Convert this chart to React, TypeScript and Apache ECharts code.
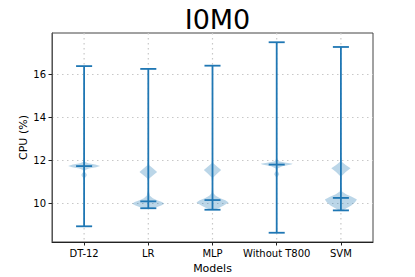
import React, { useEffect, useRef } from "react";
import * as echarts from "echarts";

const categories = ["DT-12", "LR", "MLP", "Without T800", "SVM"];
const minValues = [8.93, 9.77, 9.7, 8.63, 9.67];
const maxValues = [16.38, 16.25, 16.4, 17.49, 17.27];
const meanValues = [11.73, 10.09, 10.15, 11.8, 10.25];
const yTicks = [10, 12, 14, 16];

// density profiles: [value, relative half-width (0..1)]
const densityDT12 = [
  [8.93, 0], [10.5, 0.005], [11.1, 0.01], [11.2, 0.07], [11.27, 0.15], [11.33, 0.17],
  [11.4, 0.12], [11.47, 0.04], [11.55, 0.08], [11.62, 0.3], [11.68, 0.75], [11.74, 1.0],
  [11.8, 0.7], [11.86, 0.25], [11.93, 0.05], [12.1, 0.01], [16.38, 0],
];
const densityLR = [
  [9.77, 0.3], [9.83, 0.55], [9.9, 0.8], [9.98, 1.0], [10.06, 0.85], [10.14, 0.55],
  [10.24, 0.28], [10.35, 0.1], [10.6, 0.02], [11.0, 0.01], [11.15, 0.06], [11.3, 0.3],
  [11.46, 0.55], [11.62, 0.3], [11.77, 0.06], [12.0, 0.01], [16.25, 0],
];
const densityMLP = [
  [9.7, 0.12], [9.78, 0.4], [9.9, 0.7], [10.04, 1.0], [10.14, 0.8], [10.24, 0.48],
  [10.35, 0.2], [10.47, 0.06], [10.8, 0.01], [11.2, 0.05], [11.38, 0.3], [11.55, 0.54],
  [11.7, 0.3], [11.86, 0.05], [12.1, 0.01], [16.4, 0],
];
const densityT800 = [
  [8.63, 0], [10.8, 0.005], [11.2, 0.02], [11.28, 0.1], [11.35, 0.16], [11.42, 0.12],
  [11.5, 0.04], [11.62, 0.06], [11.72, 0.35], [11.8, 0.9], [11.84, 1.0], [11.9, 0.5],
  [11.96, 0.12], [12.1, 0.01], [17.49, 0],
];
const densitySVM = [
  [9.67, 0.12], [9.77, 0.35], [9.9, 0.65], [10.05, 0.88], [10.18, 1.0], [10.3, 0.68],
  [10.42, 0.32], [10.55, 0.07], [10.9, 0.01], [11.27, 0.05], [11.45, 0.3], [11.63, 0.6],
  [11.78, 0.3], [11.93, 0.05], [12.2, 0.01], [17.27, 0],
];
const densities = [densityDT12, densityLR, densityMLP, densityT800, densitySVM];

const BLUE = "#1f77b4";
const FILL = "rgba(31,119,180,0.3)";
const FONT = "DejaVu Sans";
const GRID_COLOR = "#c8c8c8";

export default function App() {
  const ref = useRef<HTMLDivElement>(null);
  useEffect(() => {
    if (!ref.current) return;
    const chart = echarts.init(ref.current, undefined, { renderer: "svg" });
    const renderItem = (params: any, api: any) => {
      const i = api.value(0);
      const cs = params.coordSys;
      const band = api.size([1, 0])[0];
      const cx = api.coord([i, 0])[0];
      const maxHalf = band * 0.25;
      const capHalf = band * 0.125;
      const prof = densities[i];
      const right = prof.map((p: number[]) => {
        const y = api.coord([i, p[0]])[1];
        return [cx + p[1] * maxHalf, y];
      });
      const left = prof
        .slice()
        .reverse()
        .map((p: number[]) => {
          const y = api.coord([i, p[0]])[1];
          return [cx - p[1] * maxHalf, y];
        });
      const yMin = api.coord([i, minValues[i]])[1];
      const yMax = api.coord([i, maxValues[i]])[1];
      const yMean = api.coord([i, meanValues[i]])[1];
      const lineStyle = { stroke: BLUE, lineWidth: 1.8 };
      return {
        type: "group",
        children: [
          {
            type: "line",
            shape: { x1: cx, y1: cs.y, x2: cx, y2: cs.y + cs.height },
            style: { stroke: GRID_COLOR, lineWidth: 1.2, lineDash: [1.5, 3.5] },
            z2: 0,
          },
          {
            type: "polygon",
            shape: { points: right.concat(left) },
            style: { fill: FILL, stroke: "none" },
            z2: 1,
          },
          { type: "line", shape: { x1: cx, y1: yMin, x2: cx, y2: yMax }, style: lineStyle, z2: 2 },
          { type: "line", shape: { x1: cx - capHalf, y1: yMin, x2: cx + capHalf, y2: yMin }, style: lineStyle, z2: 2 },
          { type: "line", shape: { x1: cx - capHalf, y1: yMax, x2: cx + capHalf, y2: yMax }, style: lineStyle, z2: 2 },
          { type: "line", shape: { x1: cx - capHalf, y1: yMean, x2: cx + capHalf, y2: yMean }, style: lineStyle, z2: 2 },
        ],
      };
    };
    chart.setOption({
      animation: false,
      backgroundColor: "#fff",
      title: {
        text: "I0M0",
        left: 212.5,
        textAlign: "center",
        top: 1,
        textStyle: { fontFamily: FONT, fontSize: 27, fontWeight: "normal", color: "#000" },
      },
      grid: {
        left: 52,
        right: 42,
        top: 33,
        bottom: 35,
        outerBoundsMode: "none",
        containLabel: false,
        show: true,
        borderColor: "#444",
        borderWidth: 1,
        backgroundColor: "transparent",
      },
      xAxis: {
        type: "category",
        data: categories,
        name: "Models",
        nameLocation: "middle",
        nameGap: 21,
        nameMoveOverlap: false,
        nameTextStyle: { fontFamily: FONT, fontSize: 11, color: "#000" },
        axisLine: { show: true, lineStyle: { color: "#222", width: 1 } },
        axisTick: { show: true, alignWithLabel: true, length: 3.5, lineStyle: { color: "#222" } },
        axisLabel: { fontFamily: FONT, fontSize: 10, color: "#000", margin: 6, interval: 0 },
        splitLine: { show: false },
      },
      yAxis: {
        type: "value",
        min: 8.2,
        max: 17.92,
        name: "CPU (%)",
        nameLocation: "middle",
        nameGap: 23,
        nameMoveOverlap: false,
        nameTextStyle: { fontFamily: FONT, fontSize: 11, color: "#000" },
        axisLine: { show: true, lineStyle: { color: "#555", width: 1 } },
        axisTick: { show: true, length: 3.5, lineStyle: { color: "#222" }, customValues: yTicks },
        axisLabel: {
          fontFamily: FONT,
          fontSize: 10,
          color: "#000",
          margin: 6,
          customValues: yTicks,
          formatter: (v: number) => String(v),
        },
        splitLine: { show: true, lineStyle: { color: GRID_COLOR, width: 1.2, type: [1.5, 3.5] } },
      },
      series: [
        {
          type: "custom",
          renderItem,
          data: categories.map((_, i) => [i]),
          encode: { x: 0 },
          clip: false,
        },
      ],
    });
    return () => chart.dispose();
  }, []);
  return (
    <div
      ref={ref}
      style={{ position: "absolute", left: 0, top: 0, width: 415, height: 277 }}
    />
  );
}
